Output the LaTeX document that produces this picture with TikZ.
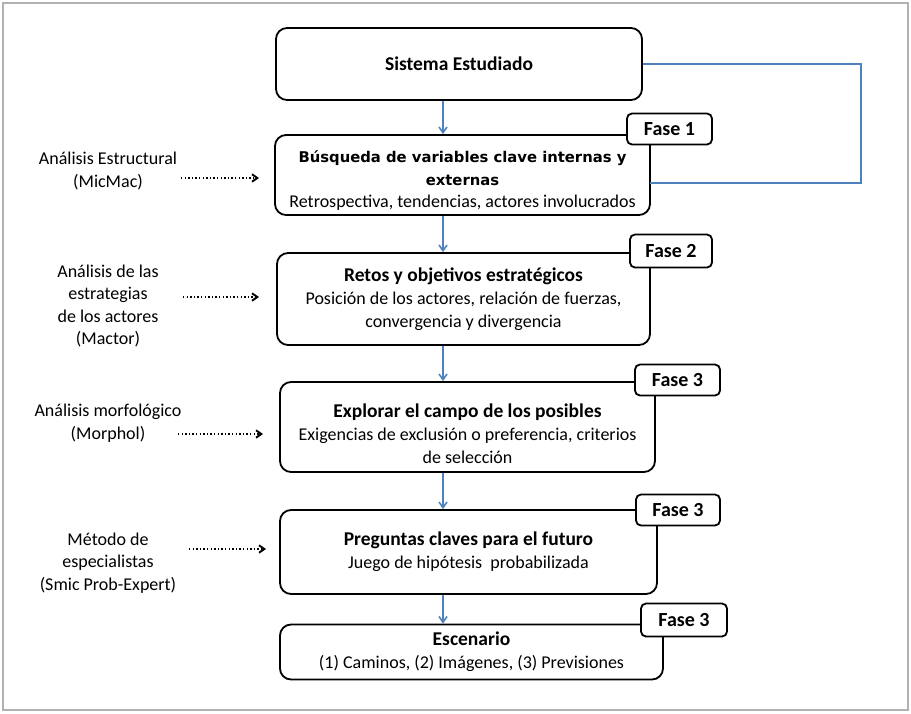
\documentclass[tikz,border=0pt]{standalone}
\usepackage{fontspec}
\setmainfont{Carlito}
\newfontfamily\verdfont{DejaVu Sans}
\usetikzlibrary{arrows.meta}
\definecolor{ablue}{RGB}{79,129,189}
\newcommand{\subfnt}{\normalfont\fontsize{18}{23}\selectfont}
\newcommand{\ttlfnt}{\bfseries\fontsize{19.5}{23}\selectfont}
\tikzset{
  mainbox/.style={draw, line width=1.8pt, rounded corners=11pt, fill=white, align=center, inner sep=0pt},
  boxtext/.style={align=center, inner sep=0pt},
  fasebox/.style={draw, line width=1.8pt, rounded corners=5pt, fill=white, inner sep=0pt, font=\bfseries\fontsize{20}{22}\selectfont},
  flow/.style={ablue, line width=1.6pt, -{Straight Barb[angle=70:7pt, line width=1.6pt]}},
  loopline/.style={ablue, line width=1.8pt},
  sidetext/.style={align=center, inner sep=0pt, font=\fontsize{18}{22.5}\selectfont},
  dots/.style={line width=1.8pt, dash pattern=on 1.4pt off 2.2pt, -{Straight Barb[angle=70:6.5pt, line width=1.9pt]}},
}
\begin{document}
\begin{tikzpicture}[x=1pt,y=-1pt]
\useasboundingbox (0,0) rectangle (911,713);
\draw[gray!60, line width=1.2pt] (3,3) rectangle (908,710);

% main boxes
\node[mainbox, minimum width=366, minimum height=72, font=\ttlfnt] (b1) at (459,64) {\raisebox{-2pt}{Sistema Estudiado}};
\node[mainbox, minimum width=375, minimum height=80] (b2) at (462.5,175) {};
\node[boxtext, font=\verdfont\bfseries\fontsize{14.8}{22.5}\selectfont] (t2) at ([yshift=-6pt]b2.center) {Búsqueda de variables clave internas y\\externas\\\subfnt Retrospectiva, tendencias, actores involucrados};
\node[mainbox, minimum width=373, minimum height=92, font=\ttlfnt] (b3) at (463.5,299) {Retos y objetivos estratégicos\\\subfnt Posición de los actores, relación de fuerzas,\\\subfnt convergencia y divergencia};
\node[mainbox, minimum width=375, minimum height=90] (b4) at (467.5,427) {};
\node[boxtext, font=\ttlfnt] (t4) at ([yshift=-7pt]b4.center) {Explorar el campo de los posibles\\\subfnt Exigencias de exclusión o preferencia, criterios\\\subfnt de selección};
\node[mainbox, minimum width=377, minimum height=84, font=\ttlfnt] (b5) at (468.5,552) {Preguntas claves para el futuro\\\subfnt Juego de hipótesis\ \ probabilizada};
\node[mainbox, minimum width=383, minimum height=55, font=\ttlfnt] (b6) at (471.5,652) {Escenario\\\subfnt (1) Caminos, (2) Imágenes, (3) Previsiones};

% fase boxes
\node[fasebox, minimum width=85, minimum height=31] (f1) at (669.5,129) {Fase 1};
\node[fasebox, minimum width=82, minimum height=33] (f2) at (671,251) {Fase 2};
\node[fasebox, minimum width=85, minimum height=31] (f3) at (677.5,380) {Fase 3};
\node[fasebox, minimum width=84, minimum height=31] (f4) at (678,510) {Fase 3};
\node[fasebox, minimum width=86, minimum height=33] (f5) at (684,620) {Fase 3};

% flow arrows
\coordinate (ax) at (443,0);
\draw[flow] (b1.south -| ax) -- (b2.north -| ax);
\draw[flow] (b2.south -| ax) -- (b3.north -| ax);
\draw[flow] (b3.south -| ax) -- (b4.north -| ax);
\draw[flow] (b4.south -| ax) -- (b5.north -| ax);
\draw[flow] (b5.south -| ax) -- (b6.north -| ax);

% loop line
\coordinate (lp) at (861,0);
\coordinate (le) at (650,183);
\draw[loopline] (b1.east) -- (b1.east -| lp) |- (le);

% side texts
\node[sidetext] (s1) at (108,171) {Análisis Estructural\\(MicMac)};
\node[sidetext] (s2) at (108,306) {Análisis de las\\estrategias\\de los actores\\(Mactor)};
\node[sidetext] (s3) at (108,423) {Análisis morfológico\\(Morphol)};
\node[sidetext] (s4) at (108,563) {Método de\\especialistas\\(Smic Prob-Expert)};

\coordinate (d1a) at (181,178); \coordinate (d1b) at (259,178);
\coordinate (d2a) at (183,297); \coordinate (d2b) at (259,297);
\coordinate (d3a) at (178,434); \coordinate (d3b) at (263,434);
\coordinate (d4a) at (189,549); \coordinate (d4b) at (266,549);
\draw[dots] (d1a) -- (d1b);
\draw[dots] (d2a) -- (d2b);
\draw[dots] (d3a) -- (d3b);
\draw[dots] (d4a) -- (d4b);
\end{tikzpicture}
\end{document}
